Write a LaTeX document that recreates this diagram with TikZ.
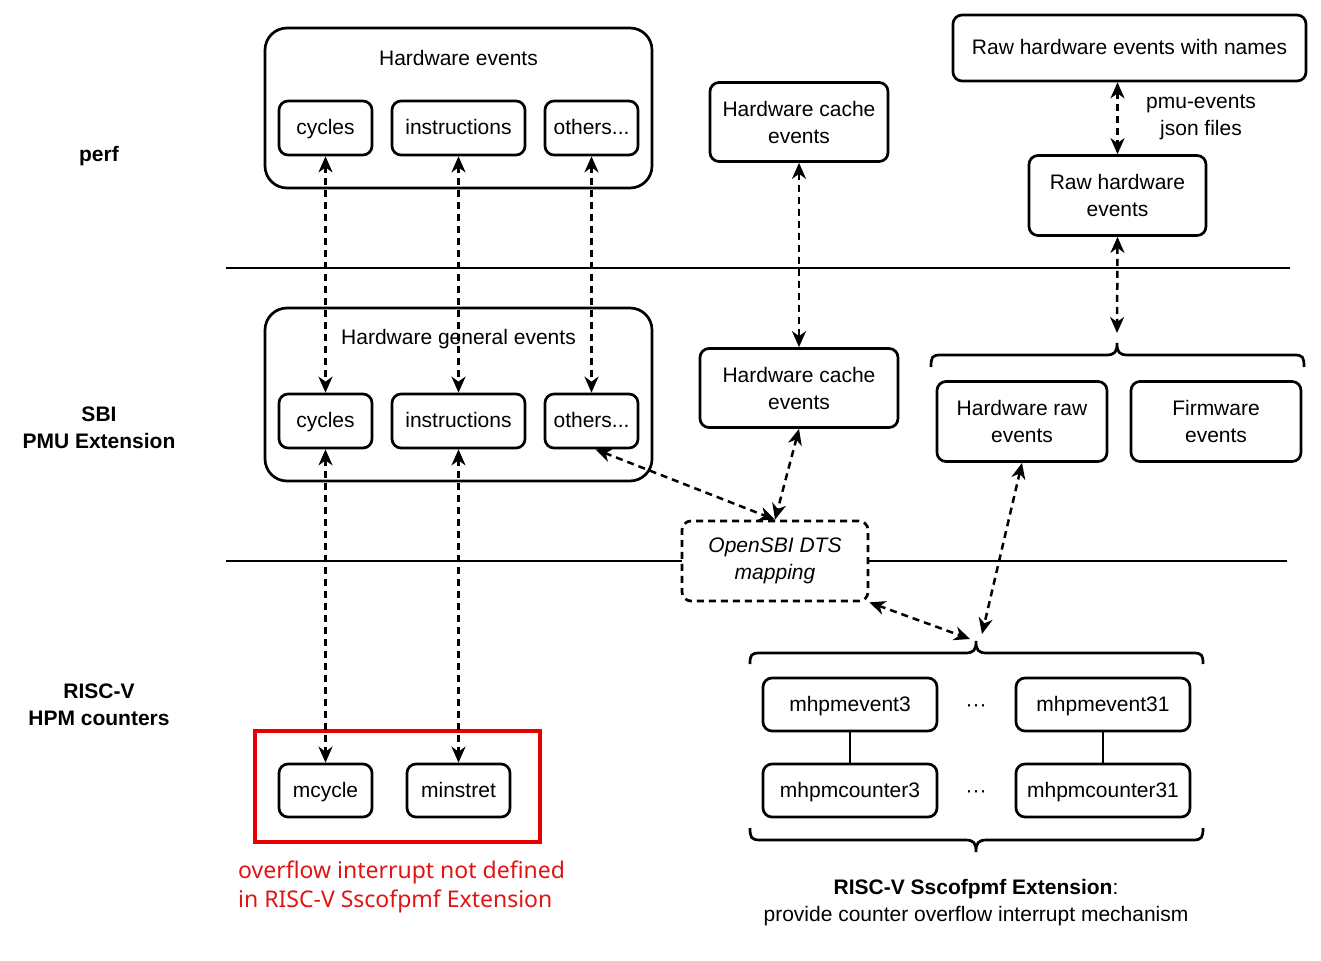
\documentclass[tikz,border=0pt]{standalone}
\usepackage{fontspec}
\setmainfont{Liberation Sans}
\newfontfamily\redfont{Noto Sans}
\usetikzlibrary{arrows.meta}
\definecolor{redbox}{RGB}{232,0,0}
\definecolor{redtext}{RGB}{225,20,20}
\begin{document}
\begin{tikzpicture}[x=1pt,y=-1pt,
  every node/.style={font=\fontsize{21}{27}\selectfont, inner sep=0pt},
  box/.style={draw, line width=2.7pt, rounded corners=9pt, align=center},
  one/.style={text height=18pt, text depth=4.5pt},
  bigbox/.style={draw, line width=2.7pt, rounded corners=22pt},
  darr/.style={line width=2.5pt, dash pattern=on 7pt off 5pt, {Stealth[length=16pt,width=14pt,inset=5pt]}-{Stealth[length=16pt,width=14pt,inset=5pt]}},
  sep/.style={line width=2.7pt},
  brace/.style={line width=2.7pt},
  lbl/.style={font=\fontsize{21}{27}\selectfont\bfseries, align=center}
]
\useasboundingbox (0,0) rectangle (1321,960);

% separators
\draw[sep] (226,268) -- (1290,268);
\draw[sep] (226,561) -- (1287,561);

% layer labels
\node[lbl, one] (perf) at (99,155) {perf};
\node[lbl] (sbi) at (99,428) {SBI\\PMU Extension};
\node[lbl] (hpm) at (99,705) {RISC-V\\HPM counters};

% perf layer
\node[bigbox, minimum width=387pt, minimum height=160pt] (hwev) at (458.5,108) {};
\node[one] (hwevt) at (458.5,59) {Hardware events};
\node[box, one, minimum width=93pt, minimum height=54pt] (cyc1) at (325.5,128) {cycles};
\node[box, one, minimum width=133pt, minimum height=54pt] (ins1) at (458.5,128) {instructions};
\node[box, one, minimum width=93pt, minimum height=54pt] (oth1) at (591.5,128) {others...};
\node[box, minimum width=178pt, minimum height=79pt] (cache1) at (799,122) {Hardware cache\\events};
\node[box, one, minimum width=353pt, minimum height=66pt] (rawn) at (1129.5,48) {Raw hardware events with names};
\node[box, minimum width=177pt, minimum height=80pt] (raw) at (1117.5,195.5) {Raw hardware\\events};
\node[align=center] (pmu) at (1201,117.5) {pmu-events\\json files};

% SBI layer
\node[bigbox, minimum width=387pt, minimum height=173pt] (hwgen) at (458.5,394.5) {};
\node[one] (hwgent) at (458.5,338) {Hardware general events};
\node[box, one, minimum width=93pt, minimum height=54pt] (cyc2) at (325.5,421) {cycles};
\node[box, one, minimum width=133pt, minimum height=54pt] (ins2) at (458.5,421) {instructions};
\node[box, one, minimum width=93pt, minimum height=54pt] (oth2) at (591.5,421) {others...};
\node[box, minimum width=198pt, minimum height=79pt] (cache2) at (799,388) {Hardware cache\\events};
\node[box, minimum width=170pt, minimum height=80pt] (hwraw) at (1022,421.5) {Hardware raw\\events};
\node[box, minimum width=170pt, minimum height=80pt] (fw) at (1216,421.5) {Firmware\\events};
\node[box, dash pattern=on 7pt off 5pt, fill=white, minimum width=186pt, minimum height=80pt, font=\fontsize{21}{27}\selectfont\itshape] (dts) at (775,561) {OpenSBI DTS\\mapping};

% braces
\coordinate (b1) at (1117,343);
\coordinate (b2) at (976,641);
\coordinate (b3) at (976,852);
\draw[brace] (931,367) .. controls (931,357) and (932,355) .. (941,355) -- (1106,355)
  .. controls (1115,355) and (1117,352) .. (b1)
  .. controls (1117,352) and (1119,355) .. (1128,355) -- (1294,355)
  .. controls (1303,355) and (1304,357) .. (1304,367);
\draw[brace] (750,664) .. controls (750,655) and (751,653) .. (760,653) -- (965,653)
  .. controls (974,653) and (976,650) .. (b2)
  .. controls (976,650) and (978,653) .. (987,653) -- (1193,653)
  .. controls (1202,653) and (1203,655) .. (1203,664);
\draw[brace] (750,828) .. controls (750,837) and (751,840) .. (760,840) -- (965,840)
  .. controls (974,840) and (976,843) .. (b3)
  .. controls (976,843) and (978,840) .. (987,840) -- (1193,840)
  .. controls (1202,840) and (1203,837) .. (1203,828);

% RISC-V layer
\node[box, one, minimum width=174pt, minimum height=53pt] (ev3) at (850,704.5) {mhpmevent3};
\node[box, one, minimum width=174pt, minimum height=53pt] (ev31) at (1103,704.5) {mhpmevent31};
\node[box, one, minimum width=174pt, minimum height=53pt] (cnt3) at (850,790.5) {mhpmcounter3};
\node[box, one, minimum width=174pt, minimum height=53pt] (cnt31) at (1103,790.5) {mhpmcounter31};
\node[one] (dots1) at (976,705) {···};
\node[one] (dots2) at (976,791) {···};
\draw[line width=2.7pt] (ev3) -- (cnt3);
\draw[line width=2.7pt] (ev31) -- (cnt31);
\node[align=center] (ssc) at (976,902.5) {\textbf{RISC-V Sscofpmf Extension}:\\provide counter overflow interrupt mechanism};

\node[draw=redbox, line width=3.4pt, minimum width=285pt, minimum height=111pt] (red) at (397.5,786.5) {};
\node[box, one, minimum width=93pt, minimum height=53pt] (mcyc) at (325.5,790.5) {mcycle};
\node[box, one, minimum width=103pt, minimum height=53pt] (mins) at (458.5,790.5) {minstret};
\node[anchor=west, align=left, text=redtext, font=\redfont\fontsize{23}{29}\selectfont] (redt) at (238,887) {overflow interrupt not defined\\in RISC-V Sscofpmf Extension};

% connectors
\draw[darr] (cyc1.south) -- (cyc2.north);
\draw[darr] (ins1.south) -- (ins2.north);
\draw[darr] (oth1.south) -- (oth2.north);
\draw[darr] (cyc2.south) -- (mcyc.north);
\draw[darr] (ins2.south) -- (mins.north);
\draw[darr] (cache1.south) -- (cache2.north);
\draw[darr] (cache2.south) -- (dts.north);
\draw[darr] ([xshift=4pt]oth2.south) -- (dts.north);
\draw[darr] (rawn.south -| raw.north) -- (raw.north);
\draw[darr] (raw.south) -- ([yshift=10pt]b1);
\draw[darr] (dts.south east) -- ([xshift=-6pt,yshift=2pt]b2);
\draw[darr] (hwraw.south) -- ([xshift=6pt,yshift=7pt]b2);
\end{tikzpicture}
\end{document}
